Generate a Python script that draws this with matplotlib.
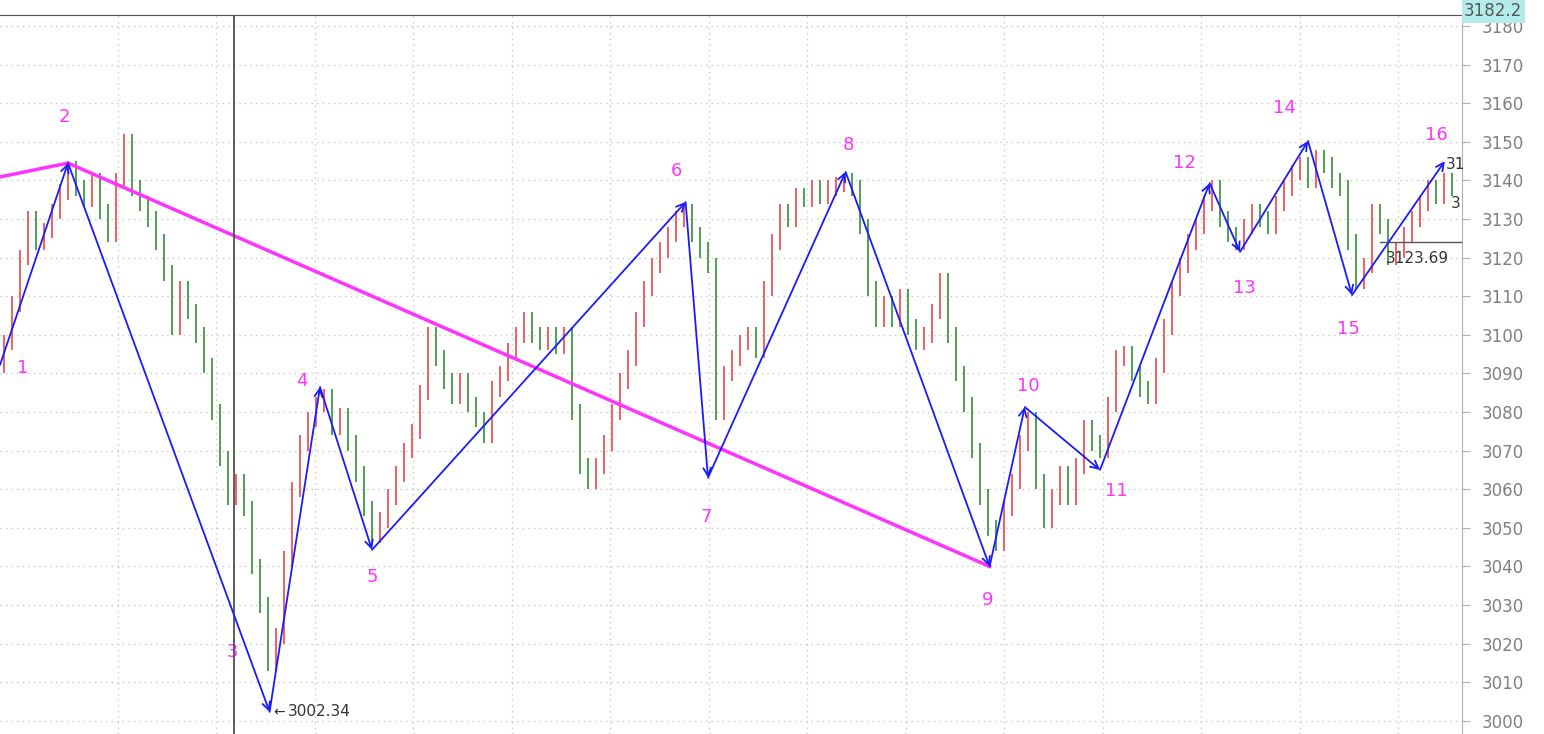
import matplotlib
matplotlib.use("Agg")
import matplotlib.pyplot as plt

# closes, one bar per step (8 px in the reference)
closes = [3098, 3108, 3120, 3130, 3124, 3127, 3132, 3137, 3143, 3138, 3135, 3140, 3132, 3126, 3140, 3150,
          3138, 3134, 3130, 3124, 3116, 3102, 3112, 3106, 3100, 3092, 3080, 3068, 3058, 3062, 3055, 3040,
          3030, 3015, 3022, 3042, 3060, 3072, 3078, 3082, 3084, 3076, 3079, 3072, 3064, 3055, 3048, 3052,
          3058, 3064, 3070, 3075, 3085, 3100, 3094, 3088, 3084, 3088, 3082, 3078, 3074, 3086, 3090, 3096,
          3100, 3104, 3100, 3098, 3100, 3097, 3100, 3080, 3066, 3062, 3066, 3072, 3080, 3088, 3094, 3104,
          3112, 3118, 3122, 3126, 3130, 3132, 3126, 3122, 3118, 3080, 3090, 3094, 3098, 3100, 3096, 3112,
          3124, 3132, 3130, 3136, 3135, 3138, 3136, 3138, 3139, 3140, 3138, 3128, 3112, 3104, 3108, 3104,
          3110, 3102, 3098, 3100, 3106, 3114, 3100, 3090, 3082, 3070, 3058, 3050, 3046, 3055, 3062, 3072,
          3078, 3062, 3052, 3058, 3064, 3058, 3066, 3076, 3072, 3070, 3082, 3094, 3095, 3090, 3086, 3084,
          3092, 3102, 3112, 3118, 3124, 3128, 3134, 3138, 3130, 3126, 3124, 3128, 3132, 3130, 3128, 3134,
          3138, 3142, 3144, 3140, 3146, 3144, 3140, 3138, 3124, 3114, 3118, 3132, 3128, 3120, 3122, 3126,
          3130, 3134, 3138, 3136, 3140, 3138]
start_open = 3092

# zigzag pivots: (bar position, value, label)
piv_x = [0, 8.5, 33.7, 40, 46.5, 85.7, 88.5, 105.7, 123.7, 128.1, 137.5, 151.2, 155, 163.5, 169, 180.6]
piv_y = [3092.2, 3144.5, 3002.34, 3086.5, 3044.3, 3134.4, 3063, 3142.2, 3040, 3081.3, 3065, 3139.3,
         3121.5, 3150.2, 3110.3, 3145]
labels = [str(i) for i in range(1, 17)]
label_pos = [(2.8, 3091.4), (8, 3156.4), (29, 3017.9), (37.7, 3088), (46.5, 3037.3), (84.5, 3142.4),
             (88.3, 3052.8), (106, 3149.2), (123.5, 3031.3), (128.5, 3086.8), (139.5, 3059.6),
             (148, 3144.5), (155.5, 3112.1), (160.5, 3158.8), (168.5, 3101.5), (179.5, 3151.8)]
trend_x = [0, 8.5, 123.7]
trend_y = [3140.9, 3144.5, 3040]

fig = plt.figure(figsize=(15.44, 7.34), dpi=100)
ax = fig.add_axes([0, 0, 1462 / 1544, 719 / 734])
ax.set_xlim(0, 182.75)
ax.set_ylim(2996.6, 3182.85)

for gx in [14.75, 27, 39.4, 51.6, 64, 76.25, 88.6, 100.9, 113.25, 125.5, 137.9, 150.1, 162.5, 174.75]:
    ax.axvline(gx, color="#c8c8c8", ls=(0, (1, 3)), lw=1, zorder=0)
for gy in range(3000, 3181, 10):
    ax.axhline(gy, color="#c8c8c8", ls=(0, (1, 3)), lw=1, zorder=0)

prev = start_open
for i, c in enumerate(closes):
    x = i + 0.5
    lo, hi = min(prev, c) - 2, max(prev, c) + 2
    col = "#f06060" if c > prev else "#50a050"
    ax.vlines(x, lo, hi, color=col, lw=1.4, zorder=2)
    prev = c

ax.plot(trend_x, trend_y, color="#ff33ff", lw=2.5, zorder=3)
for k in range(len(piv_x) - 1):
    ax.annotate("", xy=(piv_x[k + 1], piv_y[k + 1]), xytext=(piv_x[k], piv_y[k]),
                arrowprops=dict(arrowstyle="->", color="#1a1aff", lw=1.3, shrinkA=0, shrinkB=0,
                                mutation_scale=14), zorder=4)
for lab, (lx, ly) in zip(labels, label_pos):
    ax.text(lx, ly, lab, color="#ff33ff", fontsize=13, ha="center", va="center")

ax.axvline(29.25, color="#505050", lw=1.3, zorder=3)
ax.text(34.2, 3002.3, "\u2190", fontsize=10, va="center", color="#333333")
ax.text(36, 3002.3, "3002.34", fontsize=11, va="center", color="#333333")
ax.plot([172.5, 182.75], [3124, 3124], color="#555555", lw=1)
ax.text(173.2, 3119.9, "3123.69", fontsize=11, va="center", color="#333333")
ax.text(180.7, 3144, "31", fontsize=11, va="center", color="#333333")
ax.text(181.4, 3134, "3", fontsize=11, va="center", color="#333333")

for s in ["left", "bottom"]:
    ax.spines[s].set_visible(False)
ax.spines["top"].set_color("#505050")
ax.spines["right"].set_color("#b0b0b0")
ax.yaxis.tick_right()
ax.set_yticks(range(3000, 3181, 10))
ax.tick_params(axis="y", colors="#b0b0b0", labelcolor="#808080", labelsize=12, length=6, pad=8)
ax.set_xticks([])

fig.text(1 - 80 / 1544, 1 - 2 / 734, "3182.2", fontsize=12, color="#555555", ha="left", va="top",
         bbox=dict(boxstyle="square,pad=0.15", fc="#b4ecec", ec="none"))
fig.savefig("out.png", dpi=100, facecolor="white")
